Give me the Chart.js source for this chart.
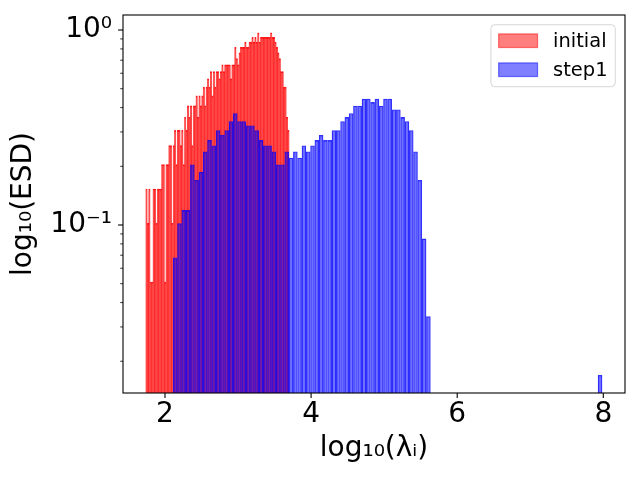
<!DOCTYPE html>
<html>
<head>
<meta charset="utf-8">
<script src="https://cdn.jsdelivr.net/npm/chart.js@4.4.1/dist/chart.umd.min.js"></script>
<style>
html,body{margin:0;padding:0;background:#ffffff;}
#wrap{width:640px;height:480px;}
</style>
</head>
<body>
<div id="wrap"><canvas id="chart" width="640" height="480"></canvas></div>
<script>
// ---------------- data ----------------
const seriesNames = ['initial', 'step1'];

// histogram bin edges (first edge, last edge) and number of bins
const redBinRange = [1.737, 3.699];
const blueBinRange = [2.11, 7.985];
const binCount = 100;

// ESD density per bin, "initial"
const redValues = [
  0.153,0.102,0.153,0.051,0.051,0.153,0.153,0.102,0.153,0.153,
  0.153,0.204,0.204,0.051,0.204,0.204,0.255,0.255,0.102,0.255,
  0.306,0.204,0.306,0.306,0.255,0.306,0.204,0.357,0.306,0.408,
  0.357,0.408,0.255,0.408,0.408,0.459,0.357,0.459,0.408,0.459,
  0.510,0.408,0.510,0.561,0.510,0.612,0.459,0.612,0.510,0.612,
  0.612,0.561,0.612,0.662,0.612,0.662,0.662,0.662,0.662,0.561,
  0.662,0.662,0.815,0.713,0.662,0.764,0.815,0.815,0.815,0.866,
  0.815,0.815,0.866,0.866,0.917,0.866,0.917,0.866,0.968,0.866,
  0.917,0.917,0.917,0.917,0.917,0.917,0.917,0.968,0.917,0.917,
  0.866,0.815,0.764,0.713,0.612,0.612,0.510,0.510,0.357,0.306
];

// ESD density per bin, "step1" (null = empty bin)
const blueValues = [
  0.068,0.102,0.119,0.119,0.204,0.170,0.187,0.238,0.272,0.255,
  0.306,0.289,0.306,0.340,0.374,0.340,0.340,0.323,0.323,0.306,
  0.272,0.255,0.255,0.238,0.204,0.204,0.238,0.221,0.238,0.221,
  0.255,0.238,0.255,0.272,0.289,0.272,0.272,0.306,0.306,0.340,
  0.357,0.374,0.408,0.408,0.443,0.443,0.426,0.443,0.408,0.443,
  0.443,0.391,0.391,0.357,0.340,0.306,0.238,0.170,0.085,0.034,
  null,null,null,null,null,null,null,null,null,null,
  null,null,null,null,null,null,null,null,null,null,
  null,null,null,null,null,null,null,null,null,null,
  null,null,null,null,null,null,null,null,null,0.017
];

const xTickValues = [2, 4, 6, 8];
const yTickValues = [0.02,0.03,0.04,0.05,0.06,0.07,0.08,0.09,0.1,0.2,0.3,0.4,0.5,0.6,0.7,0.8,0.9,1];
const yMajorTicks = [0.1, 1];
const yTickLabels = { '0.1': '10⁻¹', '1': '10⁰' };
const xAxisTitle = 'log₁₀(λᵢ)';
const yAxisTitle = 'log₁₀(ESD)';

// ---------------- styles ----------------
const FONT = 'DejaVu Sans';
const X_MIN = 1.425, X_MAX = 8.297;
const Y_MIN = 0.01375, Y_MAX = 1.194;
const redFill = 'rgba(255,0,0,0.87)';
const redEdge = 'rgba(255,0,0,0.87)';
const blueFill = 'rgba(0,0,255,0.56)';
const blueEdge = 'rgba(0,0,255,0.8)';
const legendFill = ['rgba(255,0,0,0.5)', 'rgba(0,0,255,0.5)'];

// bin centres from bin edges
function binCenters(range, n) {
  const w = (range[1] - range[0]) / n;
  const out = [];
  for (let i = 0; i < n; i++) out.push(range[0] + w * (i + 0.5));
  return out;
}
const redCenters = binCenters(redBinRange, binCount);
const blueCenters = binCenters(blueBinRange, binCount);

const redPoints = redCenters.map((x, i) => ({ x: x, y: redValues[i] })).filter(p => p.y !== null);
const bluePoints = blueCenters.map((x, i) => ({ x: x, y: blueValues[i] })).filter(p => p.y !== null);

// ---------------- plugins ----------------
const axisDecor = {
  id: 'axisDecor',
  afterDatasetsDraw(chart) {
    const { ctx, chartArea: ca, scales } = chart;
    ctx.save();
    ctx.strokeStyle = '#000';
    ctx.lineWidth = 1.1;
    ctx.strokeRect(ca.left, ca.top, ca.right - ca.left, ca.bottom - ca.top);
    const line = (x1, y1, x2, y2) => { ctx.beginPath(); ctx.moveTo(x1, y1); ctx.lineTo(x2, y2); ctx.stroke(); };
    scales.x.ticks.forEach(t => {
      const px = scales.x.getPixelForValue(t.value);
      ctx.lineWidth = 1.1;
      line(px, ca.bottom, px, ca.bottom + 4.9);
    });
    scales.y.ticks.forEach(t => {
      const py = scales.y.getPixelForValue(t.value);
      const major = yMajorTicks.includes(t.value);
      ctx.lineWidth = major ? 1.1 : 0.8;
      const len = major ? 4.9 : 2.8;
      line(ca.left - len, py, ca.left, py);
    });
    ctx.restore();
  }
};

const boxLegend = {
  id: 'boxLegend',
  afterDraw(chart) {
    const { ctx, chartArea: ca } = chart;
    const fs = 19.44;
    const pad = 0.4 * fs, handleLen = 2 * fs, handleGap = 0.8 * fs, patchH = 0.7 * fs;
    ctx.save();
    ctx.font = fs + 'px "' + FONT + '"';
    const names = chart.data.datasets.map(d => d.label);
    const tw = Math.max(...names.map(n => ctx.measureText(n).width));
    const w = 2 * pad + handleLen + handleGap + tw;
    const h = 62;
    const right = ca.right - 0.5 * fs;
    const top = ca.top + 0.5 * fs;
    const left = right - w;
    const r = 0.2 * fs;
    ctx.beginPath();
    ctx.moveTo(left + r, top);
    ctx.lineTo(right - r, top);
    ctx.arcTo(right, top, right, top + r, r);
    ctx.lineTo(right, top + h - r);
    ctx.arcTo(right, top + h, right - r, top + h, r);
    ctx.lineTo(left + r, top + h);
    ctx.arcTo(left, top + h, left, top + h - r, r);
    ctx.lineTo(left, top + r);
    ctx.arcTo(left, top, left + r, top, r);
    ctx.closePath();
    ctx.fillStyle = 'rgba(255,255,255,0.8)';
    ctx.fill();
    ctx.strokeStyle = 'rgba(204,204,204,0.8)';
    ctx.lineWidth = 1;
    ctx.stroke();
    names.forEach((n, i) => {
      const cy = top + 16 + i * 29;
      const px = left + pad;
      ctx.fillStyle = legendFill[i];
      ctx.fillRect(px, cy - patchH / 2, handleLen, patchH);
      ctx.strokeStyle = legendFill[i];
      ctx.lineWidth = 1.2;
      ctx.strokeRect(px, cy - patchH / 2, handleLen, patchH);
      ctx.fillStyle = '#000';
      ctx.textAlign = 'left';
      ctx.textBaseline = 'middle';
      ctx.fillText(n, px + handleLen + handleGap, cy + 0.8);
    });
    ctx.restore();
  }
};

// ---------------- chart ----------------
Chart.defaults.font.family = FONT;
Chart.defaults.color = '#000';

new Chart(document.getElementById('chart'), {
  type: 'bar',
  data: {
    datasets: [
      {
        label: seriesNames[0],
        data: redPoints,
        xAxisID: 'x',
        yAxisID: 'y',
        backgroundColor: redFill,
        borderColor: redEdge,
        borderWidth: 1,
        barPercentage: 1,
        categoryPercentage: 1,
        inflateAmount: 0.35,
        grouped: false,
        order: 2
      },
      {
        label: seriesNames[1],
        data: bluePoints,
        xAxisID: 'x2',
        yAxisID: 'y',
        backgroundColor: blueFill,
        borderColor: blueEdge,
        borderWidth: 1,
        barPercentage: 1,
        categoryPercentage: 1,
        inflateAmount: 0.15,
        grouped: false,
        order: 1
      }
    ]
  },
  options: {
    responsive: false,
    animation: false,
    events: [],
    layout: { padding: { left: 0, top: 15, right: 15, bottom: 0 } },
    plugins: { legend: { display: false }, tooltip: { enabled: false } },
    scales: {
      x: {
        type: 'linear',
        position: 'bottom',
        min: X_MIN,
        max: X_MAX,
        offset: false,
        grid: { display: false, drawTicks: true, tickLength: 0, offset: false },
        border: { display: false },
        ticks: {
          font: { family: FONT, size: 28 },
          color: '#000',
          padding: 4.5,
          autoSkip: false,
          maxRotation: 0,
          callback: v => String(v)
        },
        afterBuildTicks: s => { s.ticks = xTickValues.map(v => ({ value: v })); },
        afterFit: s => { s.height = 87; s.paddingLeft = 0; s.paddingRight = 0; },
        title: {
          display: true,
          text: xAxisTitle,
          font: { family: FONT, size: 28 },
          color: '#000',
          padding: { top: 0, bottom: 14 }
        }
      },
      x2: {
        type: 'linear',
        position: 'bottom',
        display: false,
        min: X_MIN,
        max: X_MAX,
        offset: false,
        grid: { offset: false }
      },
      y: {
        type: 'logarithmic',
        position: 'left',
        min: Y_MIN,
        max: Y_MAX,
        grid: { display: false, drawTicks: true, tickLength: 0 },
        border: { display: false },
        ticks: {
          font: { family: FONT, size: 28 },
          color: '#000',
          padding: 11,
          autoSkip: false,
          callback: v => yTickLabels[String(v)] || ''
        },
        afterBuildTicks: s => { s.ticks = yTickValues.map(v => ({ value: v, major: yMajorTicks.includes(v) })); },
        afterFit: s => { s.width = 123; s.paddingTop = 0; s.paddingBottom = 0; },
        title: {
          display: true,
          text: yAxisTitle,
          font: { family: FONT, size: 28 },
          color: '#000',
          padding: { top: 6.5, bottom: 0 }
        }
      }
    }
  },
  plugins: [axisDecor, boxLegend]
});
</script>
</body>
</html>
